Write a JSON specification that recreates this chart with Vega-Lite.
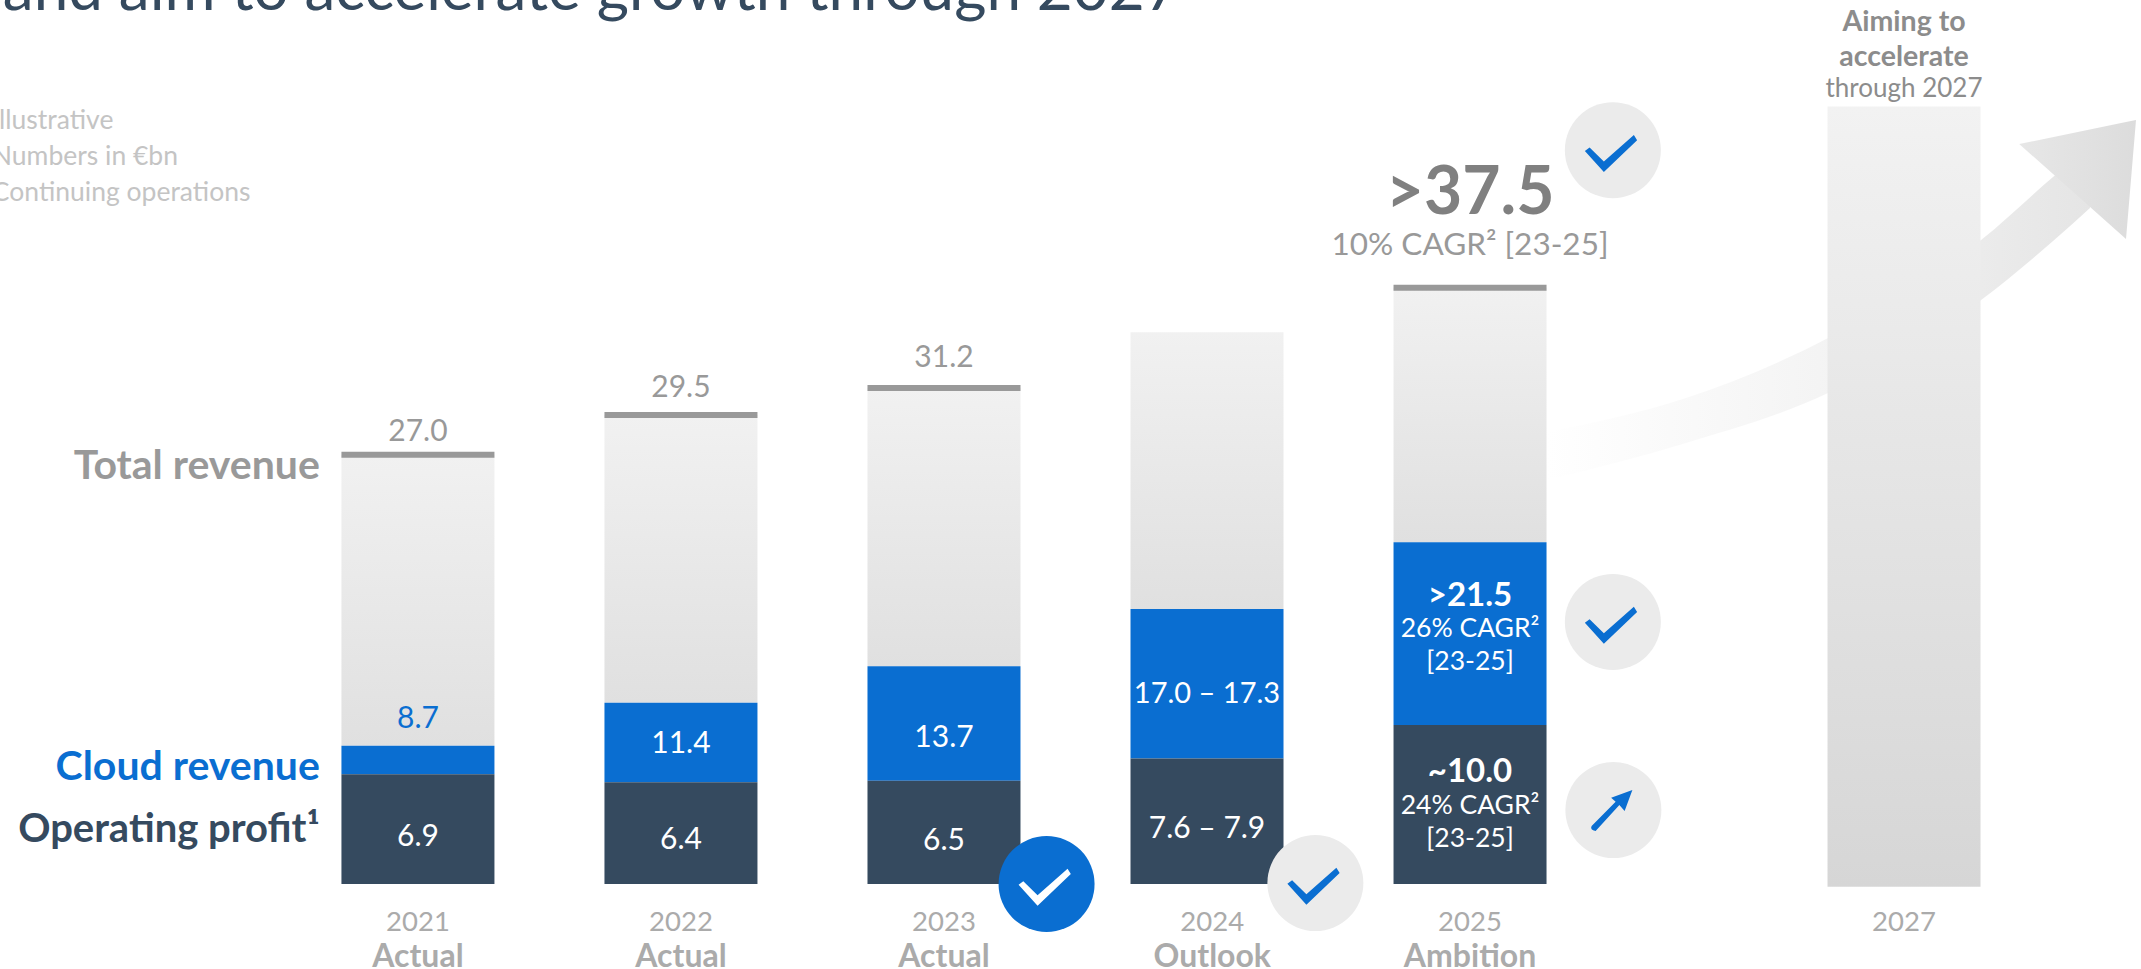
{
  "$schema": "https://vega.github.io/schema/vega-lite/v6.json",
  "width": 2141,
  "height": 969,
  "padding": 0,
  "autosize": {"type": "none"},
  "background": "#ffffff",
  "config": {"view": {"stroke": null}, "text": {"font": "Lato", "dy": 2}},
  "datasets": {
    "years": [
      {"year": "2021", "slot": 2021, "operating": 6.9, "cloud": 8.7, "total": 27.0},
      {"year": "2022", "slot": 2022, "operating": 6.4, "cloud": 11.4, "total": 29.5},
      {"year": "2023", "slot": 2023, "operating": 6.5, "cloud": 13.7, "total": 31.2},
      {"year": "2024", "slot": 2024, "operating": 7.9, "cloud": 17.3, "total": 34.7},
      {"year": "2025", "slot": 2025, "operating": 10.0, "cloud": 21.5, "total": 37.5}
    ],
    "outlook": [{"year": "2027", "slot": 2026.65, "total": 48.9}],
    "shaft": [
      {"slot": 2025.293, "upper": 28.43, "lower": 25.41},
      {"slot": 2025.821, "upper": 30.57, "lower": 27.74},
      {"slot": 2026.361, "upper": 34.34, "lower": 30.88},
      {"slot": 2026.943, "upper": 40.5, "lower": 36.73},
      {"slot": 2027.221, "upper": 44.53, "lower": 40.5},
      {"slot": 2027.357, "upper": 46.4, "lower": 42.52}
    ],
    "head": [
      {"slot": 2027.088, "upper": 46.54, "lower": 46.54},
      {"slot": 2027.494, "upper": 47.92, "lower": 40.57},
      {"slot": 2027.532, "upper": 48.05, "lower": 48.05}
    ],
    "badges": [
      {"slot": 2023.39, "level": 0.0, "kind": "done"},
      {"slot": 2024.412, "level": 0.06, "kind": "check"},
      {"slot": 2025.543, "level": 16.48, "kind": "check"},
      {"slot": 2025.543, "level": 46.15, "kind": "check"},
      {"slot": 2025.545, "level": 4.65, "kind": "rising"}
    ],
    "labels": [
      {"role": "title", "text": "and aim to accelerate growth through 2027", "slot": 2023.9, "level": 55.09},
      {"role": "note", "text": "Illustrative", "slot": 2019.38, "level": 48.11},
      {"role": "note", "text": "Numbers in €bn", "slot": 2019.38, "level": 45.85},
      {"role": "note", "text": "Continuing operations", "slot": 2019.38, "level": 43.58},
      {"role": "total", "text": "27.0", "slot": 2021, "level": 28.55},
      {"role": "total", "text": "29.5", "slot": 2022, "level": 31.32},
      {"role": "total", "text": "31.2", "slot": 2023, "level": 33.21},
      {"role": "heroSub", "text": "10% CAGR² [23-25]", "slot": 2025, "level": 40.25},
      {"role": "hero", "text": ">37.5", "slot": 2025, "level": 43.55},
      {"role": "outside", "text": "8.7", "slot": 2021, "level": 10.5},
      {"role": "inside", "text": "11.4", "slot": 2022, "level": 8.93},
      {"role": "inside", "text": "13.7", "slot": 2023, "level": 9.31},
      {"role": "inside", "text": "6.9", "slot": 2021, "level": 3.08},
      {"role": "inside", "text": "6.4", "slot": 2022, "level": 2.89},
      {"role": "inside", "text": "6.5", "slot": 2023, "level": 2.83},
      {"role": "wideRange", "text": "17.0 – 17.3", "slot": 2024, "level": 12.08},
      {"role": "inside", "text": "7.6 – 7.9", "slot": 2024, "level": 3.58},
      {"role": "insideBold", "text": ">21.5", "slot": 2025, "level": 18.24},
      {"role": "insideSmall", "text": "26% CAGR²", "slot": 2025, "level": 16.16},
      {"role": "insideSmall", "text": "[23-25]", "slot": 2025, "level": 14.09},
      {"role": "insideBold", "text": "~10.0", "slot": 2025, "level": 7.17},
      {"role": "insideSmall", "text": "24% CAGR²", "slot": 2025, "level": 5.03},
      {"role": "insideSmall", "text": "[23-25]", "slot": 2025, "level": 2.96},
      {"role": "sideTotal", "text": "Total revenue", "slot": 2020.627, "level": 26.35},
      {"role": "sideCloud", "text": "Cloud revenue", "slot": 2020.627, "level": 7.42},
      {"role": "sideProfit", "text": "Operating profit¹", "slot": 2020.627, "level": 3.52},
      {"role": "yearLabel", "text": "2021", "slot": 2021, "level": -2.33},
      {"role": "yearLabel", "text": "2022", "slot": 2022, "level": -2.33},
      {"role": "yearLabel", "text": "2023", "slot": 2023, "level": -2.33},
      {"role": "yearLabel", "text": "2024", "slot": 2024.02, "level": -2.33},
      {"role": "yearLabel", "text": "2025", "slot": 2025, "level": -2.33},
      {"role": "yearLabel", "text": "2027", "slot": 2026.65, "level": -2.33},
      {"role": "status", "text": "Actual", "slot": 2021, "level": -4.47},
      {"role": "status", "text": "Actual", "slot": 2022, "level": -4.47},
      {"role": "status", "text": "Actual", "slot": 2023, "level": -4.47},
      {"role": "status", "text": "Outlook", "slot": 2024.02, "level": -4.47},
      {"role": "status", "text": "Ambition", "slot": 2025, "level": -4.47},
      {"role": "aim", "text": "Aiming to", "slot": 2026.65, "level": 54.34},
      {"role": "aim", "text": "accelerate", "slot": 2026.65, "level": 52.14},
      {"role": "aimSub", "text": "through 2027", "slot": 2026.65, "level": 50.13}
    ]
  },
  "encoding": {
    "x": {"field": "slot", "type": "quantitative", "axis": null, "scale": {"domain": [2019.411, 2027.551], "nice": false, "zero": false, "padding": 0}},
    "y": {"field": "level", "type": "quantitative", "axis": null, "scale": {"domain": [-5.346, 55.597], "nice": false, "zero": false, "padding": 0}}
  },
  "layer": [
    {
      "data": {"name": "shaft"},
      "mark": {"type": "area", "interpolate": "monotone", "fill": {"gradient": "linear", "x1": 0, "y1": 0, "x2": 1, "y2": 0, "stops": [{"offset": 0, "color": "#ffffff"}, {"offset": 0.5, "color": "#f4f4f4"}, {"offset": 0.8, "color": "#ebebeb"}, {"offset": 1, "color": "#e5e5e5"}]}},
      "encoding": {"y": {"field": "upper", "type": "quantitative"}, "y2": {"field": "lower"}}
    },
    {
      "data": {"name": "head"},
      "mark": {"type": "area", "fill": {"gradient": "linear", "x1": 0, "y1": 0, "x2": 1, "y2": 0, "stops": [{"offset": 0, "color": "#e7e7e7"}, {"offset": 1, "color": "#dcdcdc"}]}},
      "encoding": {"y": {"field": "upper", "type": "quantitative"}, "y2": {"field": "lower"}}
    },
    {
      "mark": {"type": "rule", "color": "#c0c0c0", "strokeWidth": 3},
      "encoding": {"x": {"datum": 2020.487}, "x2": {"datum": 2027.551}, "y": {"datum": -0.09}}
    },
    {
      "data": {"name": "outlook"},
      "mark": {"type": "bar", "orient": "vertical", "width": 153, "fill": {"gradient": "linear", "x1": 0, "y1": 0, "x2": 0, "y2": 1, "stops": [{"offset": 0, "color": "#f2f2f2"}, {"offset": 1, "color": "#d6d6d6"}]}},
      "encoding": {"y": {"field": "total", "type": "quantitative"}, "y2": {"datum": -0.18}}
    },
    {
      "data": {"name": "years"},
      "mark": {"type": "bar", "orient": "vertical", "width": 153, "fill": {"gradient": "linear", "x1": 0, "y1": 0, "x2": 0, "y2": 1, "stops": [{"offset": 0, "color": "#f1f1f1"}, {"offset": 1, "color": "#e0e0e0"}]}},
      "encoding": {"y": {"field": "total", "type": "quantitative"}, "y2": {"field": "cloud"}}
    },
    {
      "data": {"name": "years"},
      "mark": {"type": "bar", "orient": "vertical", "width": 153, "fill": "#0a6ed1"},
      "encoding": {"y": {"field": "cloud", "type": "quantitative"}, "y2": {"field": "operating"}}
    },
    {
      "data": {"name": "years"},
      "mark": {"type": "bar", "orient": "vertical", "width": 153, "fill": "#354a5f"},
      "encoding": {"y": {"field": "operating", "type": "quantitative"}, "y2": {"datum": 0}}
    },
    {
      "data": {"name": "years"},
      "transform": [{"filter": "datum.year != '2024'"}],
      "mark": {"type": "tick", "orient": "horizontal", "size": 153, "thickness": 6, "color": "#999999", "opacity": 1},
      "encoding": {"y": {"field": "total", "type": "quantitative"}}
    },
    {
      "data": {"name": "badges"},
      "transform": [{"filter": "datum.kind == 'done'"}],
      "mark": {"type": "point", "shape": "circle", "filled": true, "size": 9216, "color": "#0a6ed1", "opacity": 1}
    },
    {
      "data": {"name": "badges"},
      "transform": [{"filter": "datum.kind != 'done'"}],
      "mark": {"type": "point", "shape": "circle", "filled": true, "size": 9216, "color": "#ebebeb", "opacity": 1}
    },
    {
      "data": {"name": "badges"},
      "transform": [{"filter": "datum.kind == 'done'"}],
      "mark": {"type": "point", "shape": "M-1.12,0.03 L-0.93,-0.11 L-0.36,0.45 L0.84,-0.61 L0.97,-0.4 L-0.36,0.87 Z", "filled": true, "size": 2500, "color": "#ffffff", "opacity": 1}
    },
    {
      "data": {"name": "badges"},
      "transform": [{"filter": "datum.kind == 'check'"}],
      "mark": {"type": "point", "shape": "M-1.12,0.03 L-0.93,-0.11 L-0.36,0.45 L0.84,-0.61 L0.97,-0.4 L-0.36,0.87 Z", "filled": true, "size": 2500, "color": "#0a6ed1", "opacity": 1}
    },
    {
      "data": {"name": "badges"},
      "transform": [{"filter": "datum.kind == 'rising'"}],
      "mark": {"type": "point", "shape": "M-0.87,0.64 Q-0.95,0.8 -0.71,0.84 L0.24,-0.2 L0.45,0.04 L0.76,-0.8 L-0.09,-0.49 L0.09,-0.33 Z", "filled": true, "size": 2500, "color": "#0a6ed1", "opacity": 1}
    },
    {
      "data": {"name": "labels"},
      "transform": [{"filter": "datum.role == 'title'"}],
      "mark": {"type": "text", "align": "right", "baseline": "alphabetic", "fontSize": 62, "color": "#354a5f"},
      "encoding": {"text": {"field": "text"}}
    },
    {
      "data": {"name": "labels"},
      "transform": [{"filter": "datum.role == 'note'"}],
      "mark": {"type": "text", "align": "left", "baseline": "middle", "fontSize": 26.5, "color": "#c4c4c4"},
      "encoding": {"text": {"field": "text"}}
    },
    {
      "data": {"name": "labels"},
      "transform": [{"filter": "datum.role == 'total'"}],
      "mark": {"type": "text", "align": "center", "baseline": "middle", "fontSize": 30, "color": "#999999"},
      "encoding": {"text": {"field": "text"}}
    },
    {
      "data": {"name": "labels"},
      "transform": [{"filter": "datum.role == 'heroSub'"}],
      "mark": {"type": "text", "align": "center", "baseline": "middle", "fontSize": 31.5, "color": "#999999"},
      "encoding": {"text": {"field": "text"}}
    },
    {
      "data": {"name": "labels"},
      "transform": [{"filter": "datum.role == 'hero'"}],
      "mark": {"type": "text", "align": "center", "baseline": "middle", "fontSize": 66, "fontWeight": "bold", "color": "#808080"},
      "encoding": {"text": {"field": "text"}}
    },
    {
      "data": {"name": "labels"},
      "transform": [{"filter": "datum.role == 'outside'"}],
      "mark": {"type": "text", "align": "center", "baseline": "middle", "fontSize": 30, "color": "#0a6ed1"},
      "encoding": {"text": {"field": "text"}}
    },
    {
      "data": {"name": "labels"},
      "transform": [{"filter": "datum.role == 'inside'"}],
      "mark": {"type": "text", "align": "center", "baseline": "middle", "fontSize": 30, "color": "#ffffff"},
      "encoding": {"text": {"field": "text"}}
    },
    {
      "data": {"name": "labels"},
      "transform": [{"filter": "datum.role == 'wideRange'"}],
      "mark": {"type": "text", "align": "center", "baseline": "middle", "fontSize": 29, "color": "#ffffff"},
      "encoding": {"text": {"field": "text"}}
    },
    {
      "data": {"name": "labels"},
      "transform": [{"filter": "datum.role == 'insideBold'"}],
      "mark": {"type": "text", "align": "center", "baseline": "middle", "fontSize": 33, "fontWeight": "bold", "color": "#ffffff"},
      "encoding": {"text": {"field": "text"}}
    },
    {
      "data": {"name": "labels"},
      "transform": [{"filter": "datum.role == 'insideSmall'"}],
      "mark": {"type": "text", "align": "center", "baseline": "middle", "fontSize": 26.5, "color": "#ffffff"},
      "encoding": {"text": {"field": "text"}}
    },
    {
      "data": {"name": "labels"},
      "transform": [{"filter": "datum.role == 'sideTotal'"}],
      "mark": {"type": "text", "align": "right", "baseline": "middle", "fontSize": 41, "fontWeight": "bold", "color": "#999999"},
      "encoding": {"text": {"field": "text"}}
    },
    {
      "data": {"name": "labels"},
      "transform": [{"filter": "datum.role == 'sideCloud'"}],
      "mark": {"type": "text", "align": "right", "baseline": "middle", "fontSize": 41, "fontWeight": "bold", "color": "#0a6ed1"},
      "encoding": {"text": {"field": "text"}}
    },
    {
      "data": {"name": "labels"},
      "transform": [{"filter": "datum.role == 'sideProfit'"}],
      "mark": {"type": "text", "align": "right", "baseline": "middle", "fontSize": 40, "fontWeight": "bold", "color": "#354a5f"},
      "encoding": {"text": {"field": "text"}}
    },
    {
      "data": {"name": "labels"},
      "transform": [{"filter": "datum.role == 'yearLabel'"}],
      "mark": {"type": "text", "align": "center", "baseline": "middle", "fontSize": 27.5, "color": "#ababab"},
      "encoding": {"text": {"field": "text"}}
    },
    {
      "data": {"name": "labels"},
      "transform": [{"filter": "datum.role == 'status'"}],
      "mark": {"type": "text", "align": "center", "baseline": "middle", "fontSize": 32, "fontWeight": "bold", "color": "#ababab"},
      "encoding": {"text": {"field": "text"}}
    },
    {
      "data": {"name": "labels"},
      "transform": [{"filter": "datum.role == 'aim'"}],
      "mark": {"type": "text", "align": "center", "baseline": "middle", "fontSize": 28.5, "fontWeight": "bold", "color": "#8c8c8c"},
      "encoding": {"text": {"field": "text"}}
    },
    {
      "data": {"name": "labels"},
      "transform": [{"filter": "datum.role == 'aimSub'"}],
      "mark": {"type": "text", "align": "center", "baseline": "middle", "fontSize": 26, "color": "#8c8c8c"},
      "encoding": {"text": {"field": "text"}}
    }
  ]
}
